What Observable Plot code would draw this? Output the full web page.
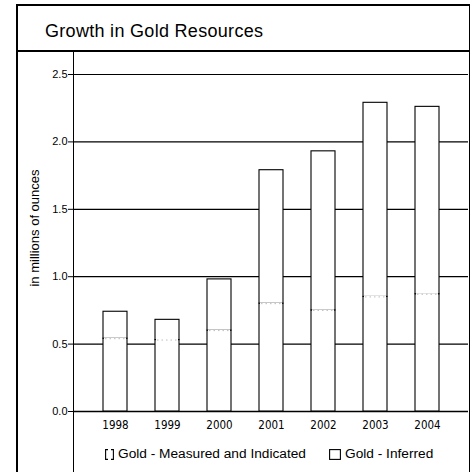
<!DOCTYPE html>
<html>
<head>
<meta charset="utf-8">
<script src="https://cdn.jsdelivr.net/npm/d3@7"></script>
<script src="https://cdn.jsdelivr.net/npm/@observablehq/plot@0.6"></script>
<style>
  body { margin: 0; background: #fff; width: 473px; height: 472px; overflow: hidden; position: relative;
         font-family: "Liberation Sans", Arial, sans-serif; color: #000; }
  .rule { position: absolute; background: #000; }
  #title { position: absolute; left: 45px; top: 22px; font-size: 18px; line-height: 18px; letter-spacing: 0.3px; white-space: nowrap; }
  #chart { position: absolute; left: 17px; top: 51px; }
  #ylabel { position: absolute; left: 34px; top: 228px; transform: translate(-50%, -50%) rotate(-90deg);
            font-size: 13px; line-height: 13px; white-space: nowrap; }
  .item { position: absolute; top: 447px; display: flex; align-items: center; font-size: 13.7px; line-height: 14px; white-space: nowrap; }
  .item svg { display: block; margin-right: 4px; }
</style>
</head>
<body>
<!-- frame around the panel -->
<div class="rule" style="left:16px;top:4px;width:1.5px;height:468px"></div>
<div class="rule" style="left:468.5px;top:4px;width:1.5px;height:468px"></div>
<div class="rule" style="left:16px;top:4px;width:454px;height:1.5px"></div>
<div class="rule" style="left:16px;top:50px;width:454px;height:1.5px"></div>
<div class="rule" style="left:72.5px;top:51px;width:1.2px;height:421px"></div>

<div id="title">Growth in Gold Resources</div>
<div id="ylabel">in millions of ounces</div>
<div id="chart"></div>

<div class="item" style="left:105px">
  <svg width="9" height="11" viewBox="0 0 9 11"><path d="M3,0.6 H0.6 V10.4 H3 M6,0.6 H8.4 V10.4 H6" fill="none" stroke="#000" stroke-width="1.1"/></svg>
  <span id="leg0"></span>
</div>
<div class="item" style="left:329px">
  <svg width="12" height="11" viewBox="0 0 12 11"><rect x="0.6" y="0.6" width="10.8" height="9.8" fill="#fff" stroke="#000" stroke-width="1.1"/></svg>
  <span id="leg1"></span>
</div>

<script>
// Gold resources by year, in millions of ounces
const years = ["1998", "1999", "2000", "2001", "2002", "2003", "2004"];
const measuredIndicated = [0.54, 0.53, 0.60, 0.80, 0.75, 0.85, 0.87];
const inferred = [0.20, 0.15, 0.38, 0.99, 1.18, 1.44, 1.39];
const seriesNames = ["Gold - Measured and Indicated", "Gold - Inferred"];
const yTicks = [0, 0.5, 1.0, 1.5, 2.0, 2.5];

document.getElementById("leg0").textContent = seriesNames[0];
document.getElementById("leg1").textContent = seriesNames[1];

const rows = years.flatMap((year, i) => [
  {year, series: seriesNames[0], value: measuredIndicated[i]},
  {year, series: seriesNames[1], value: inferred[i]}
]);
const lower = rows.filter(d => d.series === seriesNames[0]);

const chart = Plot.plot({
  width: 452,
  height: 390,
  marginLeft: 56,
  marginRight: 1,
  marginTop: 23,
  marginBottom: 30,
  style: {fontFamily: '"Liberation Sans", Arial, sans-serif', fontSize: "11px", background: "transparent", color: "#000"},
  x: {domain: years, paddingInner: 0.54, paddingOuter: 0.55, label: null},
  y: {domain: [0, 2.5], label: null},
  marks: [
    Plot.gridY(yTicks.filter(v => v > 0), {stroke: "#000", strokeOpacity: 1, strokeWidth: 1.2}),
    Plot.ruleY([0], {stroke: "#000", strokeWidth: 1.6}),
    Plot.barY(rows, Plot.stackY({x: "year", y: "value", z: "series", order: seriesNames,
      fill: "white", stroke: "#000", strokeWidth: 1.1})),
    // faint dotted boundary between the two resource classes
    Plot.tickY(lower, {x: "year", y: "value", stroke: "white", strokeWidth: 2.2, inset: 1}),
    Plot.tickY(lower, {x: "year", y: "value", stroke: "#bdbdbd", strokeWidth: 1, strokeDasharray: "1.5,3", inset: 2}),
    Plot.axisY({ticks: yTicks, tickFormat: d3.format(".1f"), tickSize: 5, tickPadding: 1, fontSize: 11, label: null}),
    Plot.axisX({tickSize: 0, tickPadding: 9, fontSize: 11.5,
      fontFamily: '"Liberation Sans Narrow", "DejaVu Sans Condensed", "Arial Narrow", sans-serif', label: null})
  ]
});
document.getElementById("chart").appendChild(chart);
</script>
</body>
</html>
